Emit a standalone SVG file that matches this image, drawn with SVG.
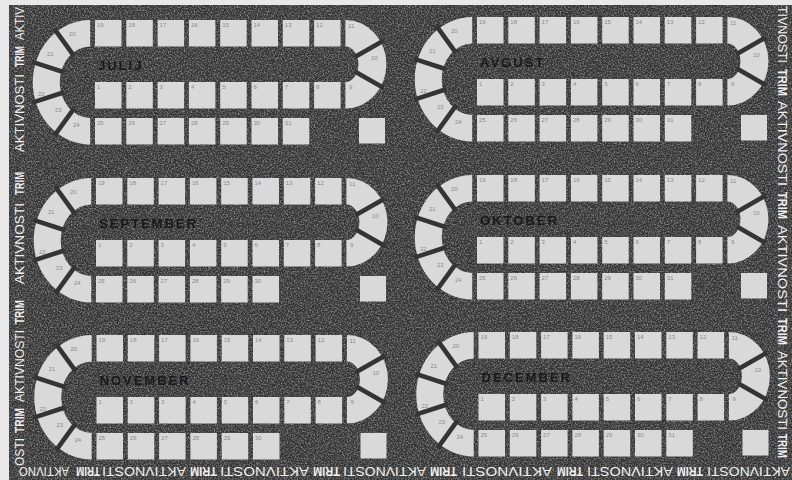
<svg xmlns="http://www.w3.org/2000/svg" width="792" height="480" viewBox="0 0 792 480">
<style>
.tile{fill:#d9d9d9}
.dv{stroke:#343434;stroke-width:4.6;fill:none}
.n{font-family:"Liberation Sans",Arial,sans-serif;font-size:6px;fill:#8a8a8a}
.lbl{font-family:"Liberation Sans",Arial,sans-serif;font-weight:700;font-size:13px;letter-spacing:2px;fill:#1a1a1a}
.bt{font-family:"Liberation Sans",Arial,sans-serif;font-size:13px;fill:#f0f0f0}
.b{font-weight:700}
</style>
<defs>
<filter id="grain" filterUnits="userSpaceOnUse" x="9" y="5" width="783" height="475">
<feTurbulence type="fractalNoise" baseFrequency="0.7" numOctaves="3" seed="7"/>
<feColorMatrix type="matrix" values="0 0 0 0 1  0 0 0 0 1  0 0 0 0 1  1.7 0 0 0 -0.68"/>
</filter>
<g id="panel">
<path class="tile" d="M-4.8 0A57.5 62.25 0 0 0-4.8 124.5L-4.8 98A30.5 35.75 0 0 1-4.8 26.5Z"/>
<path class="tile" d="M250.4 0A41 44.25 0 0 1 250.4 88.5L250.4 62A13 17.75 0 0 0 250.4 26.5Z"/>
<g class="dv">
<line x1="-20.9" y1="36.2" x2="-40.6" y2="8.9"/>
<line x1="-30.9" y1="52.3" x2="-62.8" y2="41.9"/>
<line x1="-30.9" y1="72.2" x2="-62.8" y2="82.6"/>
<line x1="-20.9" y1="88.3" x2="-40.6" y2="115.6"/>
<line x1="259.4" y1="37.2" x2="288.8" y2="20.4"/>
<line x1="259.4" y1="51.3" x2="288.8" y2="68.1"/>
</g>
<g class="tile">
<rect x="0" y="0" width="26.5" height="26.5"/><rect x="31.3" y="0" width="26.5" height="26.5"/><rect x="62.6" y="0" width="26.5" height="26.5"/><rect x="93.9" y="0" width="26.5" height="26.5"/><rect x="125.2" y="0" width="26.5" height="26.5"/><rect x="156.5" y="0" width="26.5" height="26.5"/><rect x="187.8" y="0" width="26.5" height="26.5"/><rect x="219.1" y="0" width="26.5" height="26.5"/>
<rect x="0" y="62" width="26.5" height="26.5"/><rect x="31.3" y="62" width="26.5" height="26.5"/><rect x="62.6" y="62" width="26.5" height="26.5"/><rect x="93.9" y="62" width="26.5" height="26.5"/><rect x="125.2" y="62" width="26.5" height="26.5"/><rect x="156.5" y="62" width="26.5" height="26.5"/><rect x="187.8" y="62" width="26.5" height="26.5"/><rect x="219.1" y="62" width="26.5" height="26.5"/>
<rect x="0" y="98" width="26.5" height="26.5"/><rect x="31.3" y="98" width="26.5" height="26.5"/><rect x="62.6" y="98" width="26.5" height="26.5"/><rect x="93.9" y="98" width="26.5" height="26.5"/><rect x="125.2" y="98" width="26.5" height="26.5"/><rect x="156.5" y="98" width="26.5" height="26.5"/>
<rect x="264" y="98" width="26" height="25.5"/>
</g>
<g class="n">
<text x="2" y="6.5">19</text><text x="33.3" y="6.5">18</text><text x="64.6" y="6.5">17</text><text x="95.9" y="6.5">16</text><text x="127.2" y="6.5">15</text><text x="158.5" y="6.5">14</text><text x="189.8" y="6.5">13</text><text x="221.1" y="6.5">12</text>
<text x="2" y="68.5">1</text><text x="33.3" y="68.5">2</text><text x="64.6" y="68.5">3</text><text x="95.9" y="68.5">4</text><text x="127.2" y="68.5">5</text><text x="158.5" y="68.5">6</text><text x="189.8" y="68.5">7</text><text x="221.1" y="68.5">8</text>
<text x="2" y="104.5">25</text><text x="33.3" y="104.5">26</text><text x="64.6" y="104.5">27</text><text x="95.9" y="104.5">28</text><text x="127.2" y="104.5">29</text><text x="158.5" y="104.5">30</text>
<text x="-26" y="16">20</text><text x="-48" y="36">21</text><text x="-57" y="76">22</text><text x="-40" y="92">23</text><text x="-22" y="107">24</text>
<text x="253" y="8">11</text><text x="276" y="40">10</text><text x="254" y="69">9</text>
</g>
</g>
<g id="d31"><rect class="tile" x="187.8" y="98" width="26.5" height="26.5"/><text class="n" x="189.8" y="104.5">31</text></g>
</defs>
<rect x="0" y="0" width="792" height="480" fill="#e8e8e8"/>
<rect id="board" x="9" y="5" width="783" height="475" fill="#333333"/>
<rect x="9" y="5" width="783" height="475" fill="#fff" opacity="0.6" filter="url(#grain)"/>
<g id="julij" transform="translate(95,20)"><use href="#panel"/><use href="#d31"/><text class="lbl" x="3" y="50">JULIJ</text></g>
<g id="avgust" transform="translate(477,17)"><use href="#panel"/><use href="#d31"/><text class="lbl" x="3" y="50">AVGUST</text></g>
<g id="september" transform="translate(96,178)"><use href="#panel"/><text class="lbl" x="3" y="50">SEPTEMBER</text></g>
<g id="oktober" transform="translate(477,175)"><use href="#panel"/><use href="#d31"/><text class="lbl" x="3" y="50">OKTOBER</text></g>
<g id="november" transform="translate(96.5,335)"><use href="#panel"/><text class="lbl" x="3" y="50">NOVEMBER</text></g>
<g id="december" transform="translate(478.5,332)"><use href="#panel"/><use href="#d31"/><text class="lbl" x="3" y="50">DECEMBER</text></g>
<g id="connectors"/>
<g id="border-left" class="bt" transform="translate(23.5 0) rotate(-90)">
<text x="-466" textLength="28" lengthAdjust="spacingAndGlyphs">OSTI</text>
<text class="b" x="-433" textLength="25" lengthAdjust="spacingAndGlyphs">TRIM</text>
<text x="-402" textLength="72" lengthAdjust="spacingAndGlyphs">AKTIVNOSTI</text>
<text class="b" x="-324" textLength="24" lengthAdjust="spacingAndGlyphs">TRIM</text>
<text x="-284" textLength="81" lengthAdjust="spacingAndGlyphs">AKTIVNOSTI</text>
<text class="b" x="-195" textLength="23" lengthAdjust="spacingAndGlyphs">TRIM</text>
<text x="-152" textLength="78" lengthAdjust="spacingAndGlyphs">AKTIVNOSTI</text>
<text class="b" x="-67" textLength="21" lengthAdjust="spacingAndGlyphs">TRIM</text>
<text x="-40" textLength="33" lengthAdjust="spacingAndGlyphs">AKTIV</text>
</g>
<g id="border-right" class="bt" transform="translate(777.5 0) rotate(90)">
<text x="6" textLength="57" lengthAdjust="spacingAndGlyphs">TIVNOSTI</text>
<text class="b" x="69" textLength="27" lengthAdjust="spacingAndGlyphs">TRIM</text>
<text x="101" textLength="85" lengthAdjust="spacingAndGlyphs">AKTIVNOSTI</text>
<text class="b" x="192" textLength="27" lengthAdjust="spacingAndGlyphs">TRIM</text>
<text x="225" textLength="87" lengthAdjust="spacingAndGlyphs">AKTIVNOSTI</text>
<text class="b" x="318" textLength="27" lengthAdjust="spacingAndGlyphs">TRIM</text>
<text x="351" textLength="79" lengthAdjust="spacingAndGlyphs">AKTIVNOSTI</text>
<text class="b" x="434" textLength="24" lengthAdjust="spacingAndGlyphs">TRIM</text>
</g>
<g id="border-bottom" class="bt" transform="translate(0 466.5) rotate(180)">
<text x="-790" textLength="83" lengthAdjust="spacingAndGlyphs">AKTIVNOSTI</text>
<text class="b" x="-703" textLength="26" lengthAdjust="spacingAndGlyphs">TRIM</text>
<text x="-673" textLength="86" lengthAdjust="spacingAndGlyphs">AKTIVNOSTI</text>
<text class="b" x="-583" textLength="26" lengthAdjust="spacingAndGlyphs">TRIM</text>
<text x="-552" textLength="90" lengthAdjust="spacingAndGlyphs">AKTIVNOSTI</text>
<text class="b" x="-457" textLength="27" lengthAdjust="spacingAndGlyphs">TRIM</text>
<text x="-426" textLength="83" lengthAdjust="spacingAndGlyphs">AKTIVNOSTI</text>
<text class="b" x="-340" textLength="27" lengthAdjust="spacingAndGlyphs">TRIM</text>
<text x="-309" textLength="89" lengthAdjust="spacingAndGlyphs">AKTIVNOSTI</text>
<text class="b" x="-217" textLength="27" lengthAdjust="spacingAndGlyphs">TRIM</text>
<text x="-186" textLength="84" lengthAdjust="spacingAndGlyphs">AKTIVNOSTI</text>
<text class="b" x="-100" textLength="24" lengthAdjust="spacingAndGlyphs">TRIM</text>
<text x="-69" textLength="50" lengthAdjust="spacingAndGlyphs">AKTIVNO</text>
</g>
</svg>
